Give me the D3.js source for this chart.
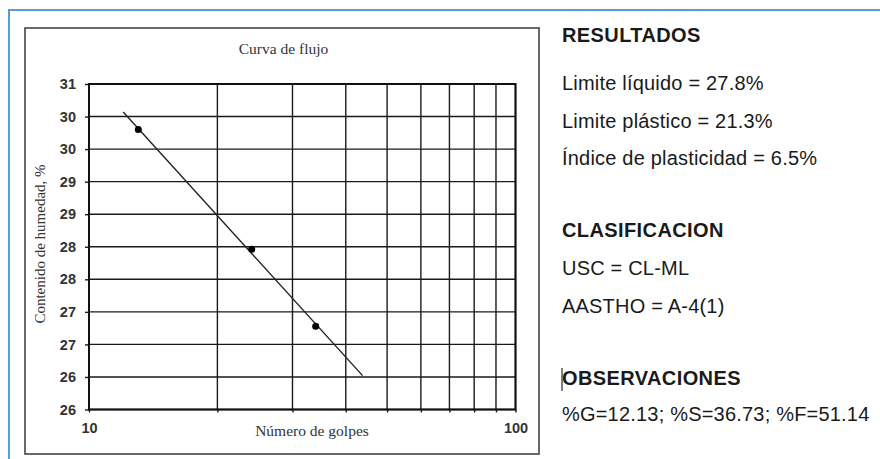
<!DOCTYPE html>
<html>
<head>
<meta charset="utf-8">
<script src="https://cdn.jsdelivr.net/npm/d3@7"></script>
<style>
body { margin: 0; background: #fff; }
</style>
</head>
<body>
<script>
// curva de flujo
var golpes = [13.05, 24.07, 34.0];
var humedad = [30.30, 28.46, 27.28];
// ends of the fitted line
var lineaGolpes = [12.03, 43.8];
var lineaHumedad = [30.57, 26.52];

var xTicks = [10, 20, 30, 40, 50, 60, 70, 80, 90, 100];
var xLabels = ["10", "", "", "", "", "", "", "", "", "100"];
var yTicks = [26, 26.5, 27, 27.5, 28, 28.5, 29, 29.5, 30, 30.5, 31];
var yLabels = ["26", "26", "27", "27", "28", "28", "29", "29", "30", "30", "31"];

var resultados = ["Limite líquido = 27.8%", "Limite plástico = 21.3%", "Índice de plasticidad = 6.5%"];
var clasificacion = ["USC = CL-ML", "AASTHO = A-4(1)"];
var observaciones = ["%G=12.13; %S=36.73; %F=51.14"];

var sans = "'Liberation Sans', Arial, sans-serif";
var serif = "'Liberation Serif', 'Times New Roman', serif";

var svg = d3.select("body")
        .append("svg")
        .attr("width", 880)
        .attr("height", 459);

// blue page frame (top and left only visible)
svg.append("path")
    .attr("d", "M9,459V10H880")
    .attr("fill", "none")
    .attr("stroke", "#5b9bd5")
    .attr("stroke-width", 2);

// chart frame
svg.append("rect")
    .attr("x", 25).attr("y", 28)
    .attr("width", 514).attr("height", 426)
    .attr("fill", "#fff")
    .attr("stroke", "#444")
    .attr("stroke-width", 1.6);

var x = d3.scaleLog().domain([10, 100]).range([89, 515.5]);
var y = d3.scaleLinear().domain([26, 31]).range([409.5, 84]);

// grid
svg.append("g").selectAll("line")
    .data(xTicks)
    .enter()
    .append("line")
    .attr("x1", function(d) { return x(d); })
    .attr("x2", function(d) { return x(d); })
    .attr("y1", y(31))
    .attr("y2", y(26))
    .attr("stroke", "#1a1a1a")
    .attr("stroke-width", 1.4);

svg.append("g").selectAll("line")
    .data(yTicks)
    .enter()
    .append("line")
    .attr("x1", x(10))
    .attr("x2", x(100))
    .attr("y1", function(d) { return y(d); })
    .attr("y2", function(d) { return y(d); })
    .attr("stroke", "#1a1a1a")
    .attr("stroke-width", 1.4);

// axes
var yAxis = svg.append("g")
    .attr("transform", "translate(" + x(10) + ",0)")
    .call(d3.axisLeft(y)
        .tickValues(yTicks)
        .tickFormat(function(d) { return yLabels[yTicks.indexOf(d)]; })
        .tickSize(4)
        .tickPadding(9));

var xAxis = svg.append("g")
    .attr("transform", "translate(0," + y(26) + ")")
    .call(d3.axisBottom(x)
        .tickValues(xTicks)
        .tickFormat(function(d) { return xLabels[xTicks.indexOf(d)]; })
        .tickSize(3)
        .tickPadding(10));

[yAxis, xAxis].forEach(function(a) {
    a.select(".domain").remove();
    a.selectAll(".tick line").attr("stroke", "#1a1a1a").attr("stroke-width", 1.4);
    a.selectAll("text")
        .attr("fill", "#333")
        .style("font-family", sans)
        .style("font-size", "14.5px")
        .style("font-weight", "bold");
});

// plot border
svg.append("rect")
    .attr("x", x(10)).attr("y", y(31))
    .attr("width", x(100) - x(10))
    .attr("height", y(26) - y(31))
    .attr("fill", "none")
    .attr("stroke", "#111")
    .attr("stroke-width", 2);

// fitted line
var linea = lineaGolpes.map(function(g, i) { return [g, lineaHumedad[i]]; });
svg.append("path")
    .datum(linea)
    .attr("d", d3.line()
        .x(function(d) { return x(d[0]); })
        .y(function(d) { return y(d[1]); }))
    .attr("fill", "none")
    .attr("stroke", "#222")
    .attr("stroke-width", 1.4);

// points
var puntos = golpes.map(function(g, i) { return [g, humedad[i]]; });
svg.append("g").selectAll("circle")
    .data(puntos)
    .enter()
    .append("circle")
    .attr("cx", function(d) { return x(d[0]); })
    .attr("cy", function(d) { return y(d[1]); })
    .attr("r", 3.5)
    .attr("fill", "#000");

// titles
svg.append("text")
    .attr("x", 283.5).attr("y", 54)
    .attr("text-anchor", "middle")
    .style("font-family", serif)
    .style("font-size", "15.5px")
    .attr("fill", "#333")
    .text("Curva de flujo");

svg.append("text")
    .attr("x", 312).attr("y", 435.5)
    .attr("text-anchor", "middle")
    .style("font-family", serif)
    .style("font-size", "15.5px")
    .attr("fill", "#333")
    .text("Número de golpes");

svg.append("text")
    .attr("transform", "translate(45,244) rotate(-90)")
    .attr("text-anchor", "middle")
    .style("font-family", serif)
    .style("font-size", "15px")
    .attr("fill", "#333")
    .text("Contenido de humedad, %");

// right side notes
function bloque(titulo, lineas, top, first) {
    svg.append("text")
        .attr("x", 562).attr("y", top)
        .style("font-family", sans)
        .style("font-size", "20px")
        .style("font-weight", "bold")
        .style("letter-spacing", "0.4px")
        .attr("fill", "#1a1a1a")
        .text(titulo);
    svg.append("g").selectAll("text")
        .data(lineas)
        .enter()
        .append("text")
        .attr("x", 562)
        .attr("y", function(d, i) { return first + i * 37.5; })
        .style("font-family", sans)
        .style("font-size", "20px")
        .style("letter-spacing", "0.2px")
        .attr("fill", "#1a1a1a")
        .text(function(d) { return d; });
}
bloque("RESULTADOS", resultados, 42, 90);
bloque("CLASIFICACION", clasificacion, 237, 275);
bloque("OBSERVACIONES", observaciones, 385, 421);

// text cursor in front of OBSERVACIONES
svg.append("line")
    .attr("x1", 562).attr("x2", 562)
    .attr("y1", 368).attr("y2", 391)
    .attr("stroke", "#000")
    .attr("stroke-width", 1);
</script>
</body>
</html>
